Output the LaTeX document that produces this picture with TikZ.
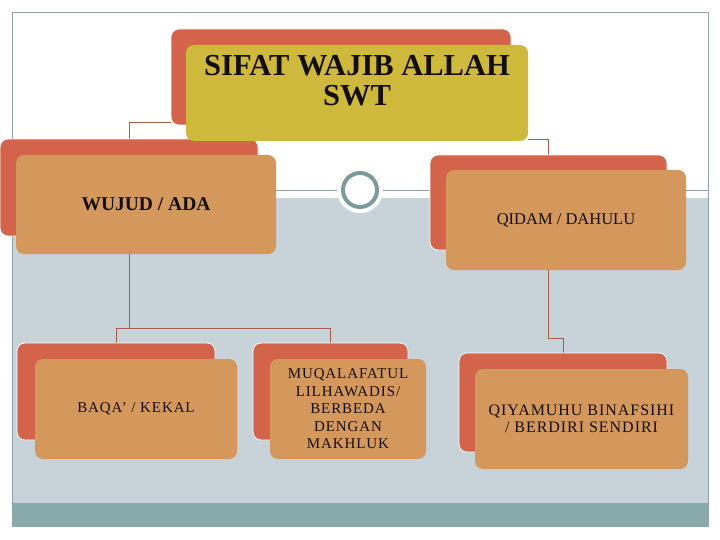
\documentclass[tikz,border=0pt]{standalone}
\usepackage{fontspec}
\setmainfont{Liberation Serif}
\newfontfamily\spacedfont[LetterSpace=6]{Liberation Serif}
\usepackage{tikz}
\usetikzlibrary{backgrounds}
\definecolor{backred}{HTML}{D3634A}
\definecolor{fronttan}{HTML}{D4975C}
\definecolor{titleyellow}{HTML}{CFB93C}
\definecolor{slidegray}{HTML}{C8D3D9}
\definecolor{slideteal}{HTML}{88AAAA}
\definecolor{ringgray}{HTML}{7D9A9A}
\definecolor{framegray}{HTML}{8FA3A8}
\definecolor{linkred}{HTML}{A65A50}
\definecolor{inkdark}{HTML}{140E0A}
\tikzstyle{back} = [rectangle, rounded corners=8pt, fill=backred, draw=white, line width=0.8pt, inner sep=0pt, outer sep=0pt]
\tikzstyle{front} = [rectangle, rounded corners=8pt, fill=fronttan, text=inkdark, align=center, inner sep=0pt, outer sep=0pt]
\tikzstyle{link} = [draw=linkred, line width=0.9pt]
\tikzstyle{divider} = [draw=framegray, line width=0.8pt]

\begin{document}
\begin{tikzpicture}[x=1pt, y=-1pt]
\useasboundingbox (0,0) rectangle (720,540);
% back plates
\node (rootB) [back, minimum width=340pt, minimum height=96pt] at (341,77) {};
\node (wujudB) [back, minimum width=258pt, minimum height=97pt] at (129,187.5) {};
\node (qidamB) [back, minimum width=237pt, minimum height=95pt] at (548.5,202.5) {};
\node (baqaB) [back, minimum width=198pt, minimum height=97pt] at (116,391.5) {};
\node (muqB) [back, minimum width=155pt, minimum height=97pt] at (330.5,391.5) {};
\node (qiyB) [back, minimum width=208pt, minimum height=99pt] at (563,402.5) {};
% front boxes
\node (root) [front, fill=titleyellow, minimum width=342pt, minimum height=96pt, text depth=25pt,
  font=\fontsize{30.5}{30}\selectfont\bfseries] at ([shift={(16,16)}]rootB) {SIFAT WAJIB ALLAH\\SWT};
\node (wujud) [front, minimum width=260pt, minimum height=99pt, font=\fontsize{19.5}{21}\selectfont\bfseries]
  at (146,204.5) {WUJUD / ADA};
\node (qidam) [front, minimum width=240pt, minimum height=100pt, font=\fontsize{16.5}{18}\selectfont]
  at (566,220) {QIDAM / DAHULU};
\node (baqa) [front, minimum width=202pt, minimum height=100pt, font=\fontsize{15}{17.5}\spacedfont]
  at (136,409) {BAQA’ / KEKAL};
\node (muq) [front, minimum width=156pt, minimum height=100pt, font=\fontsize{15}{17.5}\spacedfont]
  at (348,409) {MUQALAFATUL\\LILHAWADIS/\\BERBEDA\\DENGAN\\MAKHLUK};
\node (qiy) [front, minimum width=213pt, minimum height=100pt, font=\fontsize{16}{17.5}\spacedfont]
  at (581.5,419) {QIYAMUHU BINAFSIHI\\/ BERDIRI SENDIRI};
% ring on the divider
\node (ring) [circle, fill=white, draw=ringgray, line width=4pt, minimum size=34pt,
  preaction={draw=white, line width=12pt}] at (360,190) {};

\begin{pgfonlayer}{background}
\fill[slidegray] (12,198) rectangle (708,503);
\fill[slideteal] (12,503) rectangle (708,526);
\draw[framegray, line width=0.8pt] (12,12) rectangle (708,526);
\draw[divider] (12,190) -- (ring.west);
\draw[divider] (ring.east) -- (708,190);
\draw[link] ([yshift=3pt]rootB.south west) -| (wujudB.north);
\draw[link] ([yshift=2pt]root.south east) -| (qidamB.north);
\draw[link] (wujud.south -| wujudB.north) |- ([yshift=15pt]baqaB.north) -- (baqaB.north);
\draw[link] (wujud.south -| wujudB.north) |- ([yshift=15pt]muqB.north) -- (muqB.north);
\draw[link] (qidam.south -| qidamB.north) -- ++(0,68) -| (qiyB.north);
\end{pgfonlayer}
\end{tikzpicture}
\end{document}
